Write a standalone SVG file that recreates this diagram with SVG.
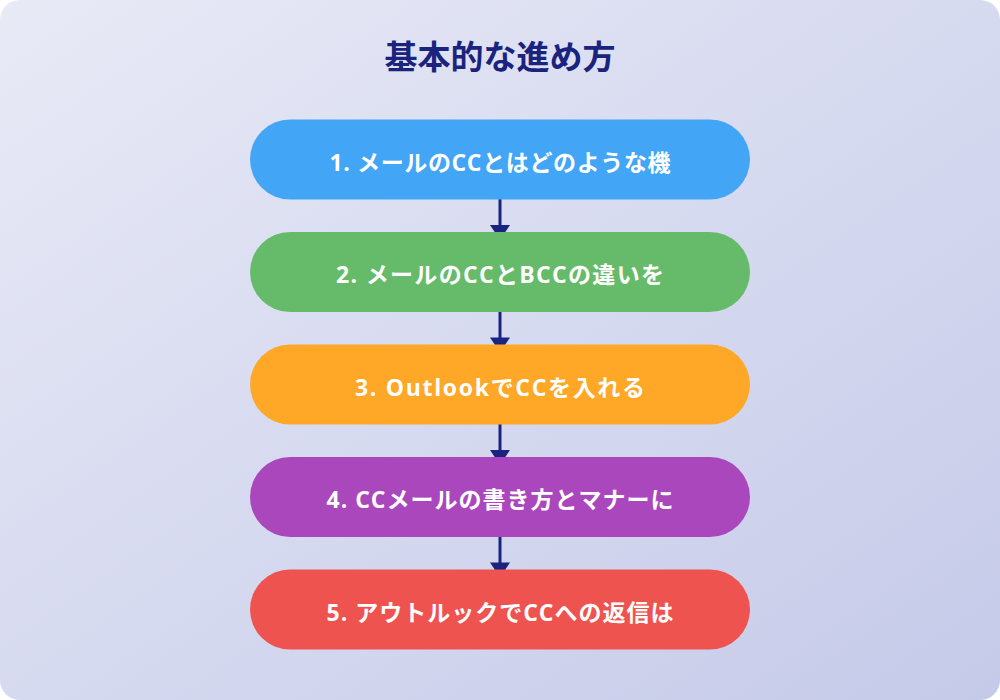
<svg xmlns="http://www.w3.org/2000/svg" width="1000" height="700" viewBox="0 0 1000 700">
<defs>
<linearGradient id="bg" x1="0" y1="0" x2="1" y2="1">
<stop offset="0" stop-color="#e8eaf6"/>
<stop offset="1" stop-color="#c5cae9"/>
</linearGradient>
<style>
.title{font-family:"Noto Sans CJK JP",sans-serif;font-weight:700;font-size:33px;fill:#1a237e}
.lbl{font-family:"Open Sans","Noto Sans CJK JP",sans-serif;font-weight:700;font-size:23px;fill:#ffffff}
.conn line{stroke:#1a237e;stroke-width:3}
.conn polygon{fill:#1a237e}
</style>
</defs>
<rect x="0" y="0" width="1000" height="700" rx="20" fill="url(#bg)"/>
<text class="title" x="500" y="55" text-anchor="middle" dominant-baseline="central">基本的な進め方</text>
<g class="conn" id="connectors">
<line x1="500" y1="199" x2="500" y2="226"/><polygon points="490,225 510,225 500,240"/>
<line x1="500" y1="311" x2="500" y2="338"/><polygon points="490,337.5 510,337.5 500,352.5"/>
<line x1="500" y1="424" x2="500" y2="451"/><polygon points="490,450 510,450 500,465"/>
<line x1="500" y1="536" x2="500" y2="563"/><polygon points="490,562.5 510,562.5 500,577.5"/>
</g>
<g id="node1"><rect x="250" y="119.5" width="500" height="80" rx="40" fill="#42a5f5"/><text class="lbl" x="500" y="161.5" text-anchor="middle" dominant-baseline="central" textLength="341">1. メールのCCとはどのような機</text></g>
<g id="node2"><rect x="250" y="232" width="500" height="80" rx="40" fill="#66bb6a"/><text class="lbl" x="500" y="274" text-anchor="middle" dominant-baseline="central" textLength="328">2. メールのCCとBCCの違いを</text></g>
<g id="node3"><rect x="250" y="344.5" width="500" height="80" rx="40" fill="#ffa726"/><text class="lbl" x="500" y="386.5" text-anchor="middle" dominant-baseline="central" textLength="290">3. OutlookでCCを入れる</text></g>
<g id="node4"><rect x="250" y="457" width="500" height="80" rx="40" fill="#ab47bc"/><text class="lbl" x="500" y="499" text-anchor="middle" dominant-baseline="central" textLength="347">4. CCメールの書き方とマナーに</text></g>
<g id="node5"><rect x="250" y="569.5" width="500" height="80" rx="40" fill="#ef5350"/><text class="lbl" x="500" y="611.5" text-anchor="middle" dominant-baseline="central" textLength="347">5. アウトルックでCCへの返信は</text></g>
</svg>
